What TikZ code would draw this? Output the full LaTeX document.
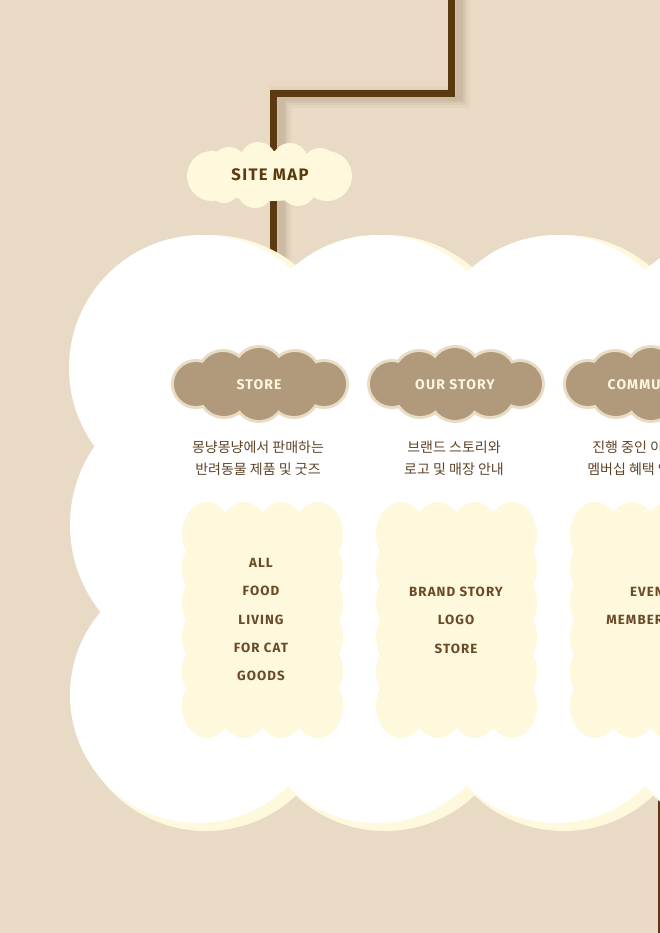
\documentclass[tikz,border=0pt]{standalone}
\usepackage{fontspec}
\newfontfamily\krfont{Noto Sans CJK KR}
\newfontfamily\dispfont[LetterSpace=8]{Fira Sans}
\definecolor{bgc}{HTML}{E8DAC5}
\definecolor{creamc}{HTML}{FEF8DC}
\definecolor{boxc}{HTML}{FEF9DD}
\definecolor{linec}{HTML}{5C3A10}
\definecolor{shadowc}{HTML}{8A7358}
\definecolor{catfill}{HTML}{B09A7B}
\definecolor{catborder}{HTML}{E9DCC5}
\definecolor{cattxt}{HTML}{FDF6DC}
\definecolor{menutxt}{HTML}{6B4A27}
\definecolor{desctxt}{HTML}{5E4428}
\tikzset{
  conn/.style={draw=linec, line width=5.25pt},
  sitetext/.style={text=linec, inner sep=0pt, font={\dispfont\bfseries\fontsize{12.5}{14}\selectfont}},
  cattext/.style={text=cattxt, inner sep=0pt, font={\dispfont\bfseries\fontsize{10.5}{12}\selectfont}},
  menutext/.style={text=menutxt, inner sep=0pt, font={\dispfont\bfseries\fontsize{10}{12}\selectfont}},
  desc/.style={text=desctxt, inner sep=0pt, align=center, font={\krfont\fontsize{10.5}{16.5}\selectfont}},
}
\newcommand\catshape[1]{\path[#1] (-63,0) circle[radius=22] (65,0) circle[radius=22]
  (-36,-8) circle[radius=24] (0,-12) circle[radius=24] (36,-8) circle[radius=24]
  (-35,8) circle[radius=24] (0,12) circle[radius=24] (35,8) circle[radius=24]
  (0,0) ellipse[x radius=70, y radius=22];}
\newcommand\catcloud[1]{\begin{scope}[shift={(#1,384)}]
  \catshape{draw=catborder, line width=4.5pt}
  \catshape{fill=catfill}
\end{scope}}
\newcommand\menubox[1]{\foreach \i in {0,...,3}{\foreach \j in {0,...,5}{
  \fill[boxc] (#1+25+37*\i, 534+34.4*\j) ellipse[x radius=25, y radius=32];}}}
\newcommand\bigcloud[4]{% dx, dy, dr, colour
  \fill[#4] (202+#1,368+#2) circle[radius=133+#3]
    (378+#1,362+#2) circle[radius=127+#3]
    (557+#1,362+#2) circle[radius=127+#3]
    (735+#1,368+#2) circle[radius=133+#3]
    (209+#1,525+#2) circle[radius=139+#3]
    (198+#1,695+#2) circle[radius=128+#3]
    (377+#1,697+#2) circle[radius=126+#3]
    (556+#1,697+#2) circle[radius=126+#3]
    (735+#1,695+#2) circle[radius=128+#3];
  \fill[#4] (150+#1,300+#2) rectangle (720+#1,760+#2);}
\begin{document}
\begin{tikzpicture}[x=0.75pt,y=0.75pt,yscale=-1]
\useasboundingbox (0,0) rectangle (660,933);
\clip (0,0) rectangle (660,933);
\fill[bgc] (0,0) rectangle (660,933);

% right connector (continues below the big cloud)
\coordinate (rtop) at (661,700);
\coordinate (rbot) at (661,945);
\draw[conn] (rtop) -- (rbot);

% main connector with soft shadow
\coordinate (ltop) at (451,-10);
\coordinate (lb1) at (451,93);
\coordinate (lb2) at (273,93);
\coordinate (lend) at (273,320);
\foreach \w/\o in {22/0.05,16/0.07,11/0.09,7/0.11}{
  \draw[shadowc, opacity=\o, line width=\w*0.75pt]
    ([shift={(8,4)}]ltop) -- ([shift={(8,4)}]lb1) -- ([shift={(8,4)}]lb2) -- ([shift={(8,4)}]lend);}
\draw[conn] (ltop) -- (lb1) -- (lb2) -- (lend);

% SITE MAP cloud
\fill[creamc] (212,176) circle[radius=25] (229,165) circle[radius=18]
  (258,160) circle[radius=18] (290,161) circle[radius=18] (320,166) circle[radius=18]
  (327,176) circle[radius=25] (224,188) circle[radius=15] (255,190) circle[radius=18]
  (298,188) circle[radius=18] (270,176) ellipse[x radius=72, y radius=25];
\node[sitetext] (sitemap) at (270,175) {SITE MAP};

% big cloud: cream shadow then white
\bigcloud{8}{4}{4}{boxc}
\bigcloud{0}{0}{0}{white}

% category clouds
\catcloud{259}
\catcloud{455}
\catcloud{651}
\node[cattext] (c1) at (259,385) {STORE};
\node[cattext] (c2) at (455,385) {OUR STORY};
\node[cattext] (c3) at (651,385) {COMMUNITY};

% descriptions
\node[desc] (d1) at (258,458) {몽냥몽냥에서 판매하는\\반려동물 제품 및 굿즈};
\node[desc] (d2) at (454,458) {브랜드 스토리와\\로고 및 매장 안내};
\node[desc, anchor=west] (d3a) at (592,447) {진행 중인 이벤트와};
\node[desc, anchor=west] (d3b) at (587,469) {멤버십 혜택 안내};

% menu boxes
\menubox{182}
\menubox{376}
\menubox{570}
\foreach \t [count=\k from 0] in {ALL,FOOD,LIVING,FOR CAT,GOODS}{
  \node[menutext] (ma\k) at (261,563+28.3*\k) {\t};}
\foreach \t [count=\k from 0] in {BRAND STORY,LOGO,STORE}{
  \node[menutext] (mb\k) at (456,592+28.3*\k) {\t};}
\foreach \t [count=\k from 0] in {EVENT,MEMBERSHIP}{
  \node[menutext] (mc\k) at (651,592+28.3*\k) {\t};}
\end{tikzpicture}
\end{document}
